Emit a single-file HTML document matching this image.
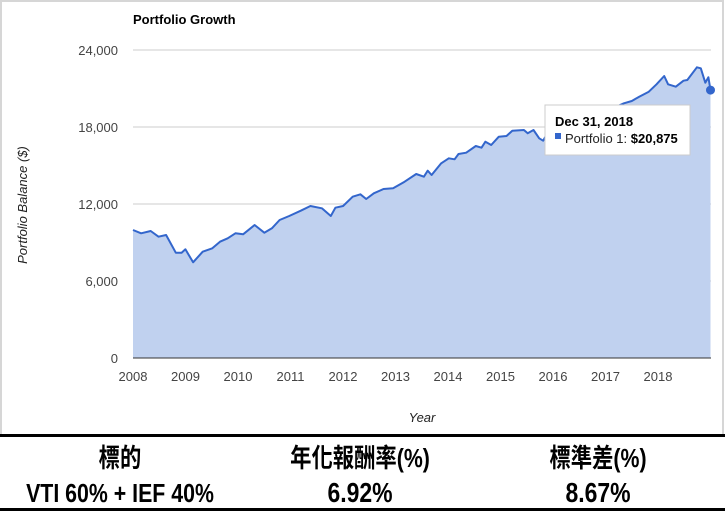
<!DOCTYPE html>
<html><head><meta charset="utf-8"><style>
body{margin:0;background:#fff;width:725px;height:513px;overflow:hidden;font-family:"Liberation Sans",sans-serif}
#chart{position:absolute;left:0;top:0}
.tbl{position:absolute;left:0;width:725px;font-family:"Liberation Sans","Noto Sans CJK TC",sans-serif;font-weight:bold;color:#000;font-size:26px}
.cell{position:absolute;text-align:center;width:240px;transform:scaleX(0.82);line-height:30px}
</style></head><body>
<svg id="chart" width="725" height="436" xmlns="http://www.w3.org/2000/svg">
<rect x="1" y="1" width="722" height="436" fill="#fff" stroke="#d6d6d6" stroke-width="2"/>
<text x="133" y="24" font-size="13" font-weight="bold" fill="#000">Portfolio Growth</text>
<g id="grid"></g>
<path id="area" fill="#c0d1ef"/>
<path id="line" fill="none" stroke="#3366cc" stroke-width="2" stroke-linejoin="round"/>
<circle id="dot" r="4.5" fill="#3366cc"/>
<line x1="133" x2="711" y1="358" y2="358" stroke="#333" stroke-width="1"/>
<g id="xt"></g>
<text transform="translate(27,205) rotate(-90)" text-anchor="middle" font-size="13" font-style="italic" fill="#222">Portfolio Balance ($)</text>
<text x="422" y="422" text-anchor="middle" font-size="13" font-style="italic" fill="#222">Year</text>
<g>
<rect x="545" y="105" width="145" height="50" fill="#fff" stroke="#ccc" stroke-width="1"/>
<text x="555" y="126" font-size="13" font-weight="bold" fill="#000">Dec 31, 2018</text>
<rect x="555" y="133" width="6" height="6" fill="#3366cc"/>
<text x="565" y="143" font-size="13" fill="#222">Portfolio 1: <tspan font-weight="bold" fill="#000">$20,875</tspan></text>
</g>
</svg>
<div style="position:absolute;left:0;top:434px;width:725px;height:3px;background:#000"></div>
<div class="tbl" style="top:437px;height:76px">
<div class="cell" style="left:0;top:6px">標的</div>
<div class="cell" style="left:240px;top:6px">年化報酬率(%)</div>
<div class="cell" style="left:478px;top:6px">標準差(%)</div>
<div class="cell" style="left:0;top:41px">VTI 60% + IEF 40%</div>
<div class="cell" style="left:240px;top:41px;font-size:28px">6.92%</div>
<div class="cell" style="left:478px;top:41px;font-size:28px">8.67%</div>
</div>
<div style="position:absolute;left:0;top:508px;width:725px;height:3px;background:#000"></div>
<script>
const yearOffsets=[0,0.155,0.338,0.485,0.631,0.815,0.925,0.998,1.144,1.327,1.511,1.657,1.804,1.95,2.097,2.316,2.5,2.646,2.793,2.976,3.196,3.379,3.599,3.767,3.855,4.001,4.185,4.331,4.441,4.587,4.771,4.954,5.174,5.394,5.54,5.613,5.687,5.87,6.016,6.126,6.2,6.346,6.529,6.639,6.712,6.822,6.968,7.115,7.225,7.445,7.518,7.628,7.738,7.811,7.92,8.0,8.2,8.5,8.8,9.0,9.35,9.5,9.642,9.825,9.971,10.118,10.192,10.339,10.486,10.558,10.741,10.815,10.9,10.96,11.0];
const balances=[9974,9714,9896,9455,9584,8208,8208,8468,7455,8286,8546,9065,9325,9714,9636,10364,9766,10104,10753,11065,11481,11844,11662,11065,11714,11844,12571,12753,12389,12831,13169,13221,13741,14338,14130,14597,14260,15169,15558,15480,15896,16000,16519,16389,16857,16597,17246,17298,17714,17766,17506,17766,17117,16935,17714,17600,17900,18500,18700,19200,19844,20026,20364,20754,21325,21974,21325,21144,21611,21663,22649,22571,21455,21870,20875];
const yTicks=[0,6000,12000,18000,24000];
const yTickLabels=["0","6,000","12,000","18,000","24,000"];
const xTicks=[2008,2009,2010,2011,2012,2013,2014,2015,2016,2017,2018];
const startYear=2008;
const X=t=>133+t*52.5;
const Y=v=>358-v/24000*308;
const NS="http://www.w3.org/2000/svg";
const grid=document.getElementById('grid');
yTicks.forEach((v,i)=>{
  if(v>0){const l=document.createElementNS(NS,'line');
  
  
  l.setAttribute('x1',133);l.setAttribute('x2',711);l.setAttribute('y1',Y(v));l.setAttribute('y2',Y(v));
  l.setAttribute('stroke','#cccccc');grid.appendChild(l);}
  const t=document.createElementNS(NS,'text');
  
  
  t.setAttribute('x',118);t.setAttribute('y',Y(v)+5);t.setAttribute('text-anchor','end');
  t.setAttribute('font-size','13');t.setAttribute('fill','#444');t.textContent=yTickLabels[i];grid.appendChild(t);
});
const xt=document.getElementById('xt');
xTicks.forEach(yr=>{
  const t=document.createElementNS(NS,'text');
  
  
  t.setAttribute('x',X(yr-startYear));t.setAttribute('y',381);t.setAttribute('text-anchor','middle');
  t.setAttribute('font-size','13');t.setAttribute('fill','#444');t.textContent=yr;xt.appendChild(t);
});
let d='';
balances.forEach((v,i)=>{d+=(i?'L':'M')+X(yearOffsets[i]).toFixed(1)+' '+Y(v).toFixed(1);});
document.getElementById('line').setAttribute('d',d);
const n=balances.length-1;
document.getElementById('area').setAttribute('d',d+'L'+X(yearOffsets[n])+' 358L'+X(yearOffsets[0])+' 358Z');
const dot=document.getElementById('dot');
dot.setAttribute('cx',X(yearOffsets[n]));dot.setAttribute('cy',Y(balances[n]));
</script>
</body></html>
